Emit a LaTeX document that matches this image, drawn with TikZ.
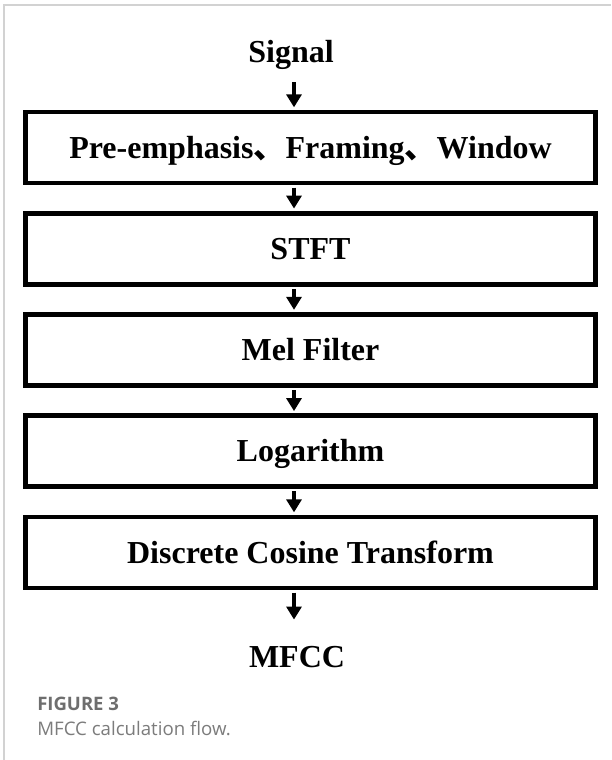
\documentclass[tikz,border=0pt]{standalone}
\usepackage{fontspec}
\setmainfont{Liberation Serif}
\newfontfamily\capfont{Open Sans}
\newfontfamily\cjkfont{Noto Sans CJK SC}
\usetikzlibrary{arrows.meta,calc}
\definecolor{framegray}{HTML}{D2D2D2}
\definecolor{capgray}{HTML}{6E6E6E}
\newcommand{\dun}{{\cjkfont 、}}

\begin{document}
\begin{tikzpicture}[x=0.75pt,y=-0.75pt,
  stepbox/.style={draw=black, line width=3.5pt, minimum width=427.5pt,
    minimum height=53.25pt, inner sep=0pt, text height=15.9pt, text depth=0pt,
    font=\bfseries\fontsize{24}{28}\selectfont},
  endlabel/.style={inner sep=0pt, anchor=base, font=\bfseries\fontsize{24}{28}\selectfont},
  flow/.style={line width=2.5pt, -{Triangle[width=11.25pt,length=9.75pt]},
    shorten <=1.75pt, shorten >=1.75pt},
  captitle/.style={anchor=base west, inner sep=0pt, text=capgray,
    font=\capfont\bfseries\fontsize{13.9}{16}\selectfont},
  captext/.style={anchor=base west, inner sep=0pt, text=capgray!90,
    font=\capfont\fontsize{14}{16}\selectfont}]
\useasboundingbox (0,0) rectangle (611,760);
\fill[white] (0,0) rectangle (611,760);

% open frame around the figure
\draw[framegray, line width=1.1pt] (4,760) -- (4,5) -- (611,5);

% vertical axis of the arrows
\coordinate (axis) at (294,0);

% input and output labels
\node[endlabel] (sig) at (291,62) {Signal};
\node[endlabel] (mfcc) at (297,667) {MFCC};

% processing stages
\node[stepbox] (b1) at (310.5,147.5) {Pre-emphasis\dun Framing\dun Window};
\node[stepbox] (b2) at (310.5,248.75) {STFT};
\node[stepbox] (b3) at (310.5,350) {Mel Filter};
\node[stepbox] (b4) at (310.5,451.25) {Logarithm};
\node[stepbox] (b5) at (310.5,552.5) {Discrete Cosine Transform};

% connectors
\draw[flow, shorten <=9.75pt] (sig.south -| axis) -- (b1.north -| axis);
\draw[flow] (b1.south -| axis) -- (b2.north -| axis);
\draw[flow] (b2.south -| axis) -- (b3.north -| axis);
\draw[flow] (b3.south -| axis) -- (b4.north -| axis);
\draw[flow] (b4.south -| axis) -- (b5.north -| axis);
\draw[flow, shorten >=19.5pt] (b5.south -| axis) -- (mfcc.north -| axis);

% caption
\node[captitle] (figno) at (37,710) {FIGURE 3};
\node[captext] (figcap) at (37,735) {MFCC calculation flow.};
\end{tikzpicture}
\end{document}
